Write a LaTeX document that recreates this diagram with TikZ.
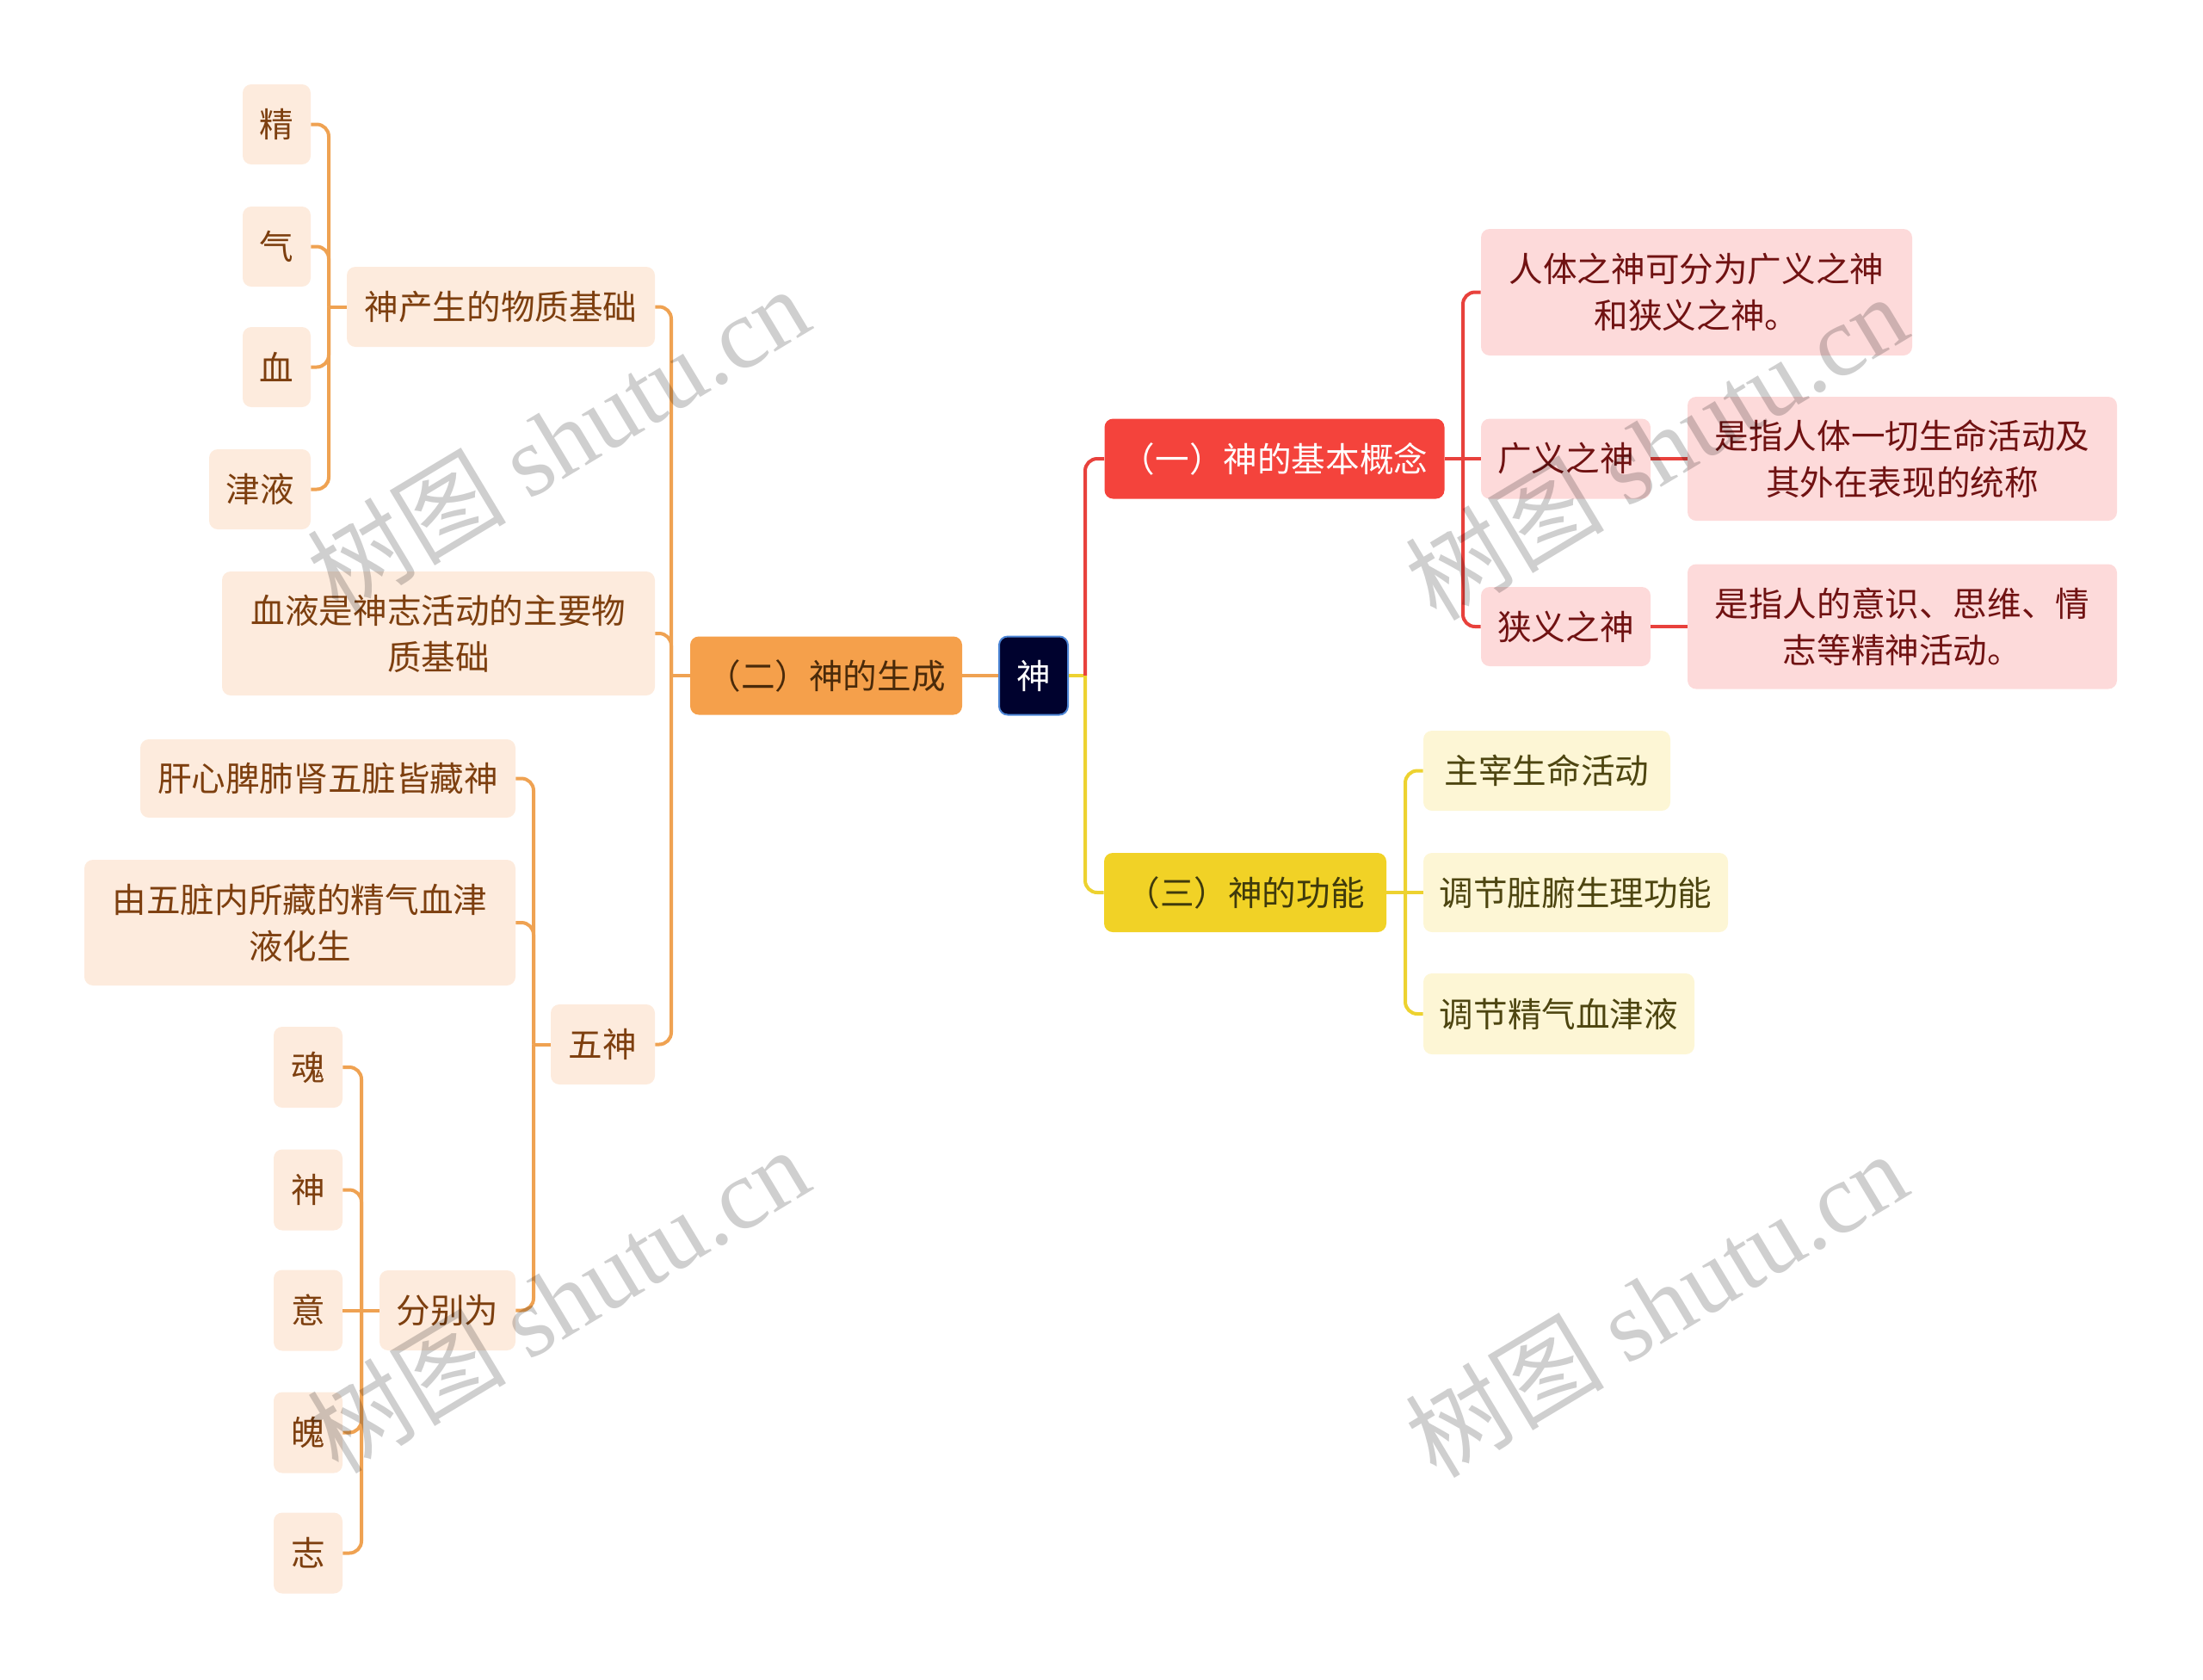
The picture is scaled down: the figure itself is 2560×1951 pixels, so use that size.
\documentclass[tikz,border=0pt]{standalone}
\usepackage{fontspec}
\setmainfont{Noto Sans CJK SC}
\newfontfamily\wmlatin{Liberation Serif}
\definecolor{rootfill}{HTML}{00022E}
\definecolor{rootdraw}{HTML}{4D86D6}
\definecolor{redfill}{HTML}{F4433C}
\definecolor{redlite}{HTML}{FDDADA}
\definecolor{redtext}{HTML}{701212}
\definecolor{redline}{HTML}{E8413C}
\definecolor{yelfill}{HTML}{F1D226}
\definecolor{yellite}{HTML}{FDF6D5}
\definecolor{yeltext}{HTML}{4D4510}
\definecolor{yelmain}{HTML}{3F3A0C}
\definecolor{yelline}{HTML}{EDD230}
\definecolor{orfill}{HTML}{F5A04B}
\definecolor{orlite}{HTML}{FDEBDD}
\definecolor{ortext}{HTML}{7D3F0F}
\definecolor{ormain}{HTML}{4A2A0A}
\definecolor{orline}{HTML}{EFA252}
\begin{document}
\begin{tikzpicture}[x=0.5pt,y=-0.5pt,
  box/.style={rectangle, rounded corners=5pt, inner sep=0pt, align=center,
    font=\fontsize{19.8pt}{27pt}\selectfont},
  rootbox/.style={box, fill=rootfill, draw=rootdraw, line width=1pt, text=white},
  redmain/.style={box, fill=redfill, text=white},
  redsub/.style={box, fill=redlite, text=redtext},
  yelmainbox/.style={box, fill=yelfill, text=yelmain},
  yelsub/.style={box, fill=yellite, text=yeltext},
  ormainbox/.style={box, fill=orfill, text=ormain},
  orsub/.style={box, fill=orlite, text=ortext},
  conn/.style={line width=2pt, rounded corners=7pt},
  rconn/.style={conn, draw=redline},
  yconn/.style={conn, draw=yelline},
  oconn/.style={conn, draw=orline},
  wm/.style={rotate=31, text=black, text opacity=0.19, inner sep=0pt,
    font=\fontsize{58pt}{60pt}\selectfont}
]
\useasboundingbox (0,0) rectangle (2560,1951);

% nodes
\node[rootbox, minimum width=40pt, minimum height=45.5pt] (root) at (1201,785) {神};

\node[redmain, minimum width=197.5pt, minimum height=46.5pt] (n1) at (1481,533) {（一）神的基本概念};
\node[yelmainbox, minimum width=164pt, minimum height=46pt] (n3) at (1447,1037) {（三）神的功能};
\node[ormainbox, minimum width=158pt, minimum height=45.5pt] (n2) at (960,785) {（二）神的生成};

\node[redsub, minimum width=250.5pt, minimum height=73.5pt] (a1) at (1971.5,339.5) {人体之神可分为广义之神\\和狭义之神。};
\node[redsub, minimum width=98.5pt, minimum height=46.5pt] (a2) at (1819.5,533) {广义之神};
\node[redsub, minimum width=249.5pt, minimum height=72pt] (a3) at (2210.5,533) {是指人体一切生命活动及\\其外在表现的统称};
\node[redsub, minimum width=98.5pt, minimum height=46pt] (a4) at (1819.5,728) {狭义之神};
\node[redsub, minimum width=249.5pt, minimum height=72.5pt] (a5) at (2210.5,728) {是指人的意识、思维、情\\志等精神活动。};

\node[yelsub, minimum width=143.5pt, minimum height=46.5pt] (b1) at (1797.5,895.5) {主宰生命活动};
\node[yelsub, minimum width=177pt, minimum height=46pt] (b2) at (1831,1037) {调节脏腑生理功能};
\node[yelsub, minimum width=157.5pt, minimum height=47pt] (b3) at (1811.5,1178) {调节精气血津液};

\node[orsub, minimum width=179pt, minimum height=46.5pt] (c1) at (582,356.5) {神产生的物质基础};
\node[orsub, minimum width=251.5pt, minimum height=72pt] (c2) at (509.5,736) {血液是神志活动的主要物\\质基础};
\node[orsub, minimum width=60.5pt, minimum height=46.5pt] (c3) at (700.5,1213.5) {五神};

\node[orsub, minimum width=39.5pt, minimum height=46.5pt] (d1) at (321.5,144.5) {精};
\node[orsub, minimum width=39.5pt, minimum height=46.5pt] (d2) at (321.5,286.5) {气};
\node[orsub, minimum width=39.5pt, minimum height=46.5pt] (d3) at (321.5,426.5) {血};
\node[orsub, minimum width=59pt, minimum height=46.5pt] (d4) at (302,568.5) {津液};

\node[orsub, minimum width=218pt, minimum height=45.5pt] (e1) at (381,904.5) {肝心脾肺肾五脏皆藏神};
\node[orsub, minimum width=250.5pt, minimum height=73pt] (e2) at (348.5,1072) {由五脏内所藏的精气血津\\液化生};
\node[orsub, minimum width=79pt, minimum height=46.5pt] (e3) at (520,1522.5) {分别为};

\node[orsub, minimum width=40pt, minimum height=47pt] (f1) at (358,1240) {魂};
\node[orsub, minimum width=40pt, minimum height=47pt] (f2) at (358,1382.5) {神};
\node[orsub, minimum width=40pt, minimum height=47pt] (f3) at (358,1522.5) {意};
\node[orsub, minimum width=40pt, minimum height=47pt] (f4) at (358,1664.5) {魄};
\node[orsub, minimum width=40pt, minimum height=47pt] (f5) at (358,1804.5) {志};

% connectors
\coordinate (s0) at (1261,785);
\draw[yconn] (root.east) -- (s0);
\draw[rconn] (s0) |- (n1.west);
\draw[yconn] (s0) |- (n3.west);

\coordinate (s1) at (1700,533);
\draw[rconn] (n1.east) -- (s1);
\draw[rconn] (s1) |- (a1.west);
\draw[rconn] (s1) -- (a2.west);
\draw[rconn] (s1) |- (a4.west);
\draw[rconn] (a2.east) -- (a3.west);
\draw[rconn] (a4.east) -- (a5.west);

\coordinate (s3) at (1633,1037);
\draw[yconn] (n3.east) -- (s3);
\draw[yconn] (s3) |- (b1.west);
\draw[yconn] (s3) -- (b2.west);
\draw[yconn] (s3) |- (b3.west);

\draw[oconn] (n2.east) -- (root.west);
\coordinate (t0) at (780,785);
\draw[oconn] (n2.west) -- (t0);
\draw[oconn] (t0) |- (c1.east);
\draw[oconn] (t0) |- (c2.east);
\draw[oconn] (t0) |- (c3.east);

\coordinate (t1) at (382,356.5);
\draw[oconn] (c1.west) -- (t1);
\draw[oconn] (t1) |- (d1.east);
\draw[oconn] (t1) |- (d2.east);
\draw[oconn] (t1) |- (d3.east);
\draw[oconn] (t1) |- (d4.east);

\coordinate (t2) at (620,1213.5);
\draw[oconn] (c3.west) -- (t2);
\draw[oconn] (t2) |- (e1.east);
\draw[oconn] (t2) |- (e2.east);
\draw[oconn] (t2) |- (e3.east);

\coordinate (t3) at (420,1522.5);
\draw[oconn] (e3.west) -- (t3);
\draw[oconn] (t3) |- (f1.east);
\draw[oconn] (t3) |- (f2.east);
\draw[oconn] (t3) -- (f3.east);
\draw[oconn] (t3) |- (f4.east);
\draw[oconn] (t3) |- (f5.east);

% watermarks
\node[wm] (w1) at (648,510) {树图 {\wmlatin shutu.cn}};
\node[wm] (w2) at (1924,519) {树图 {\wmlatin shutu.cn}};
\node[wm] (w3) at (648,1510) {树图 {\wmlatin shutu.cn}};
\node[wm] (w4) at (1924,1515) {树图 {\wmlatin shutu.cn}};
\end{tikzpicture}
\end{document}
